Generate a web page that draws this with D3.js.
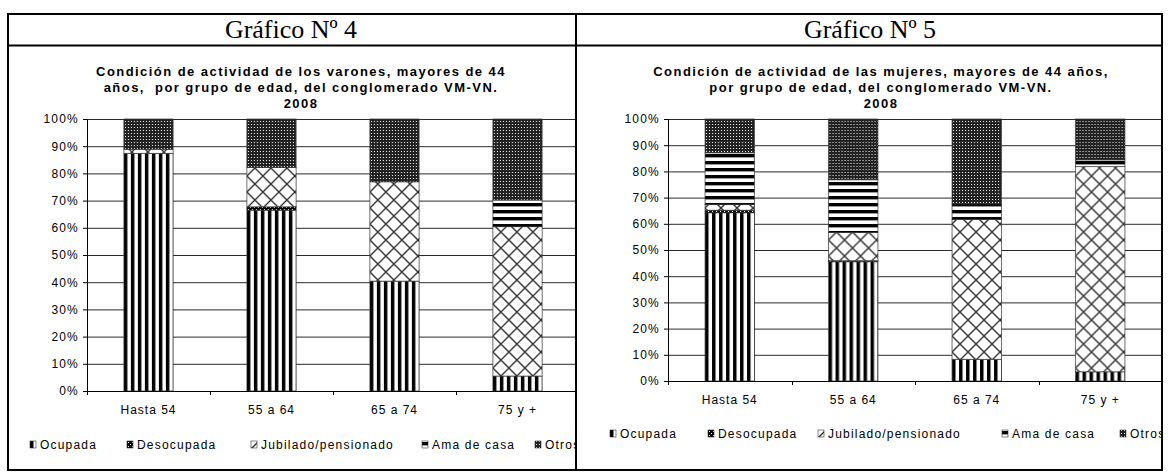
<!DOCTYPE html>
<html>
<head>
<meta charset="utf-8">
<script src="https://cdn.jsdelivr.net/npm/d3@7"></script>
<style>
body{margin:0;background:#fff;}
svg text{font-family:"Liberation Sans",Arial,sans-serif;fill:#000;}
</style>
</head>
<body>
<div id="canvas"></div>
<script>
// categories and series
var categories = ['Hasta 54','55 a 64','65 a 74','75 y +'];
var seriesNames = ['Ocupada','Desocupada','Jubilado/pensionado','Ama de casa','Otros'];
var yTicks = [0,10,20,30,40,50,60,70,80,90,100];

// Gráfico 4 - varones (%)
var ocupadaV    = [87.4, 66.5, 40.4,  5.5];
var desocupadaV = [ 0.0,  1.2,  0.0,  0.0];
var jubiladoV   = [ 1.5, 14.5, 36.5, 54.9];
var amaCasaV    = [ 0.0,  0.0,  0.0,  9.8];
var otrosV      = [11.1, 17.8, 23.1, 29.8];

// Gráfico 5 - mujeres (%)
var ocupadaM    = [64.2, 45.5,  8.3,  3.5];
var desocupadaM = [ 1.0,  0.4,  0.0,  0.0];
var jubiladoM   = [ 2.1, 10.8, 53.4, 78.3];
var amaCasaM    = [19.8, 20.1,  5.9,  2.6];
var otrosM      = [12.9, 23.2, 32.4, 15.6];

var titleV = ['Condición de actividad de los varones, mayores de 44',
              'años,  por grupo de edad, del conglomerado VM-VN.',
              '2008'];
var titleM = ['Condición de actividad de las mujeres, mayores de 44 años,',
              'por grupo de edad, del conglomerado VM-VN.',
              '2008'];

var W = 1168, H = 473;
var svg = d3.select('#canvas').append('svg')
    .attr('width',W)
    .attr('height',H);
var defs = svg.append('defs');

//fill patterns, one per series
var pat;
pat = defs.append('pattern').attr('id','pat0').attr('patternUnits','userSpaceOnUse').attr('width',7).attr('height',10);
pat.append('rect').attr('width',7).attr('height',10).attr('fill','#fff');
pat.append('rect').attr('width',3).attr('height',10).attr('fill','#000');
pat.append('rect').attr('x',3).attr('width',1).attr('height',10).attr('fill','#888');

pat = defs.append('pattern').attr('id','pat1').attr('patternUnits','userSpaceOnUse').attr('width',4).attr('height',4);
pat.append('rect').attr('width',4).attr('height',4).attr('fill','#000');
pat.append('rect').attr('x',1).attr('y',1).attr('width',1).attr('height',1).attr('fill','#fff');
pat.append('rect').attr('x',3).attr('y',3).attr('width',1).attr('height',1).attr('fill','#fff');

pat = defs.append('pattern').attr('id','pat2').attr('patternUnits','userSpaceOnUse').attr('width',16).attr('height',16);
pat.append('rect').attr('width',16).attr('height',16).attr('fill','#fff');
pat.append('path')
    .attr('d','M-2,-2L18,18M18,-2L-2,18')
    .attr('stroke','#333').attr('stroke-width',1.4).attr('fill','none');

pat = defs.append('pattern').attr('id','pat3').attr('patternUnits','userSpaceOnUse').attr('width',10).attr('height',7);
pat.append('rect').attr('width',10).attr('height',7).attr('fill','#fff');
pat.append('rect').attr('width',10).attr('height',3).attr('fill','#000');
pat.append('rect').attr('y',3).attr('width',10).attr('height',1).attr('fill','#999');

pat = defs.append('pattern').attr('id','pat4').attr('patternUnits','userSpaceOnUse').attr('width',3).attr('height',3);
pat.append('rect').attr('width',3).attr('height',3).attr('fill','#222');
pat.append('rect').attr('x',1).attr('y',1).attr('width',1).attr('height',1).attr('fill','#eee');

//frame of the two-cell table
var frame = svg.append('g').attr('fill','none').attr('stroke','#000').attr('stroke-width',2);
frame.append('rect').attr('x',8).attr('y',14).attr('width',1154).attr('height',456);
frame.append('line').attr('x1',576).attr('x2',576).attr('y1',14).attr('y2',470);
frame.append('line').attr('x1',8).attr('x2',1162).attr('y1',45.5).attr('y2',45.5);

function rows(ocu,des,jub,ama,otr){
    return categories.map(function(c,i){
        var r = {cat:c};
        r[seriesNames[0]] = ocu[i];
        r[seriesNames[1]] = des[i];
        r[seriesNames[2]] = jub[i];
        r[seriesNames[3]] = ama[i];
        r[seriesNames[4]] = otr[i];
        return r;
    });
}

var panels = [
    {id:'v', header:'Gráfico Nº 4', headerX:291, titleX:301, title:titleV,
     clip:[9,47,566,422], x0:87, x1:579, yTop:119, yBot:391,
     legendX:[30,127,251,422,535], legendY:449, data:rows(ocupadaV,desocupadaV,jubiladoV,amaCasaV,otrosV)},
    {id:'m', header:'Gráfico Nº 5', headerX:870, titleX:881, title:titleM,
     clip:[577,47,584,422], x0:668, x1:1162, yTop:119, yBot:381,
     legendX:[610,708,818,1002,1120], legendY:438, data:rows(ocupadaM,desocupadaM,jubiladoM,amaCasaM,otrosM)}
];

panels.forEach(function(p){
    svg.append('text')
        .attr('x',p.headerX).attr('y',38)
        .attr('text-anchor','middle')
        .style('font-family','"Liberation Serif","Times New Roman",serif')
        .style('font-size','26px')
        .text(p.header);

    defs.append('clipPath').attr('id','clip-'+p.id)
        .append('rect').attr('x',p.clip[0]).attr('y',p.clip[1]).attr('width',p.clip[2]).attr('height',p.clip[3]);
    var g = svg.append('g').attr('clip-path','url(#clip-'+p.id+')');

    //title
    g.selectAll('.title').data(p.title).enter()
        .append('text')
        .attr('class','title')
        .attr('x',p.titleX)
        .attr('y',function(d,i){return 76 + i*16;})
        .attr('text-anchor','middle')
        .style('font-size','13px')
        .style('font-weight','bold')
        .style('letter-spacing','1.45px')
        .style('white-space','pre')
        .text(function(d){return d;});

    var scaleX = d3.scaleBand()
        .domain(categories)
        .range([p.x0,p.x1])
        .paddingInner(0.6)
        .paddingOuter(0.3);
    var scaleY = d3.scaleLinear()
        .domain([0,100])
        .range([p.yBot,p.yTop]);

    //gridlines
    var grid = d3.axisLeft(scaleY).tickValues(yTicks).tickSize(-(p.x1-p.x0)).tickFormat('');
    g.append('g').attr('class','grid')
        .attr('transform','translate('+p.x0+',0)')
        .call(grid)
        .call(function(s){
            s.select('.domain').remove();
            s.selectAll('line').attr('stroke','#2a2a2a').attr('stroke-width',1);
        });

    //stacked bars
    var stack = d3.stack().keys(seriesNames)(p.data);
    var bw = scaleX.bandwidth();
    stack.forEach(function(layer,k){
        g.selectAll('.seg'+k).data(layer.filter(function(d){return d[1]-d[0]>0;}))
            .enter()
            .append('g')
            .attr('class','seg'+k)
            .attr('transform',function(d){return 'translate('+scaleX(d.data.cat)+',0)';})
            .append('rect')
            .attr('y',function(d){return scaleY(d[1]);})
            .attr('width',bw)
            .attr('height',function(d){return scaleY(d[0])-scaleY(d[1]);})
            .attr('fill','url(#pat'+k+')')
            .attr('stroke','#333')
            .attr('stroke-width',0.7);
    });

    //y axis
    var axisY = d3.axisLeft(scaleY).tickValues(yTicks).tickSize(4).tickPadding(4)
        .tickFormat(function(d){return d+'%';});
    g.append('g').attr('class','axis axis-y')
        .attr('transform','translate('+p.x0+',0)')
        .call(axisY)
        .call(function(s){
            s.select('.domain').attr('stroke','#000');
            s.selectAll('line').attr('stroke','#000');
            s.selectAll('text')
                .style('font-size','12px')
                .style('letter-spacing','1.2px')
                .style('font-family','"Liberation Sans",Arial,sans-serif')
                .attr('fill','#000');
        });

    //x axis
    var axisX = d3.axisBottom(scaleX).tickSize(0).tickPadding(14);
    g.append('g').attr('class','axis axis-x')
        .attr('transform','translate(0,'+p.yBot+')')
        .call(axisX)
        .call(function(s){
            s.select('.domain').attr('stroke','#000');
            s.selectAll('text')
                .style('font-size','12px')
                .style('letter-spacing','1px')
                .style('font-family','"Liberation Sans",Arial,sans-serif')
                .attr('fill','#000');
        });
    var half = (scaleX.step()-bw)/2;
    var bounds = categories.map(function(c){return scaleX(c)-half;});
    bounds.push(scaleX(categories[categories.length-1])+bw+half);
    g.selectAll('.xtick').data(bounds).enter()
        .append('line')
        .attr('class','xtick')
        .attr('x1',function(d){return Math.round(d)+0.5;})
        .attr('x2',function(d){return Math.round(d)+0.5;})
        .attr('y1',p.yBot).attr('y2',p.yBot+4)
        .attr('stroke','#000');

    //legend
    var lg = g.append('g').attr('class','legend');
    seriesNames.forEach(function(name,k){
        var item = lg.append('g').attr('transform','translate('+p.legendX[k]+','+p.legendY+')');
        item.append('rect')
            .attr('x',0).attr('y',-8)
            .attr('width',6).attr('height',7)
            .attr('fill','url(#pat'+k+')')
            .attr('stroke','#333').attr('stroke-width',0.6);
        item.append('text')
            .attr('x',10)
            .style('font-size','12px')
            .style('letter-spacing','1.2px')
            .text(name);
    });
});
</script>
</body>
</html>
